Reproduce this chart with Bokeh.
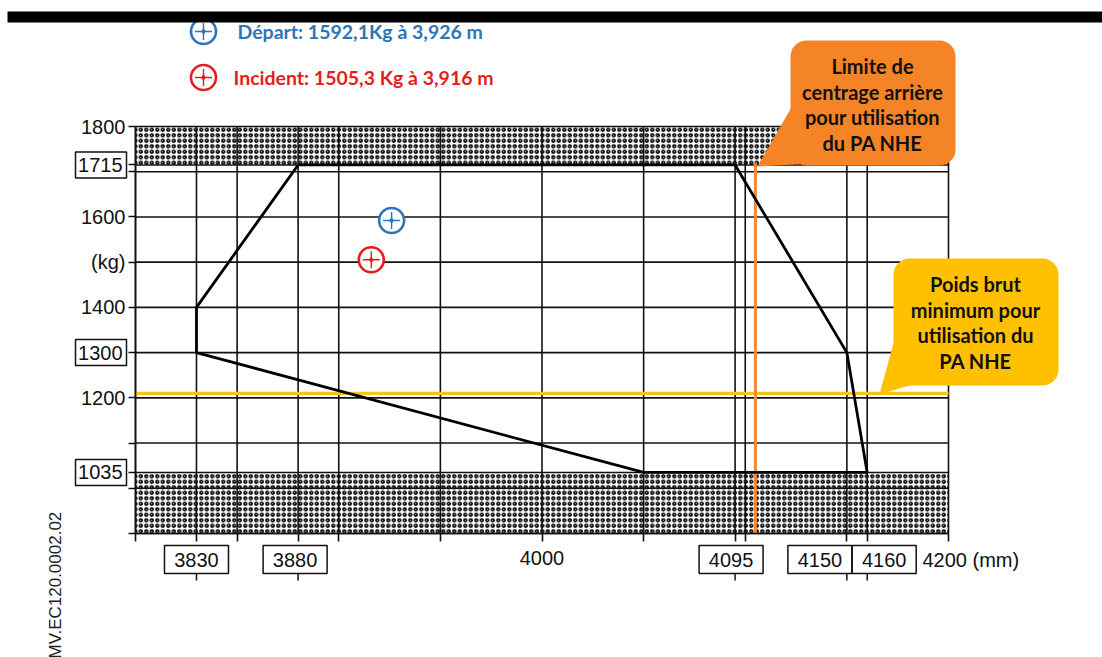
import math
from bokeh.plotting import figure
from bokeh.models import Range1d, FixedTicker, Label, BoxAnnotation, PolyAnnotation, LinearAxis
from bokeh.embed import file_html
from bokeh.resources import INLINE

# ---------------- data ----------------
x_lines = [3800, 3830, 3850, 3880, 3900, 3950, 4000, 4050, 4095, 4100, 4150, 4160, 4200]
y_lines = [900, 1000, 1035, 1100, 1200, 1300, 1400, 1500, 1600, 1700, 1715, 1800]
x_plain_labels = {4000: "4000"}
x_boxed_labels = [3830, 3880, 4095, 4150, 4160]
y_plain_labels = {1800: "1800", 1600: "1600", 1500: "(kg)", 1400: "1400", 1200: "1200"}
y_boxed_labels = [1715, 1300, 1035]
envelope_x = [3880, 4095, 4150, 4160, 4050, 3830, 3830, 3880]
envelope_y = [1715, 1715, 1300, 1035, 1035, 1300, 1400, 1715]
band_bottom = [1715, 900]
band_top = [1800, 1035]
aft_limit_x = 4105
min_weight_y = 1210
pt_x = [3926, 3916]
pt_y = [1592.1, 1505.3]
pt_text = ["Départ: 1592,1Kg à 3,926 m", "Incident: 1505,3 Kg à 3,916 m"]
pt_color = ["#2E75B6", "#E41E20"]

# ---------------- layout ----------------
W, H = 1102, 657
X0, X1, Y0, Y1 = 3800, 4200, 900, 1800
GL, GT = 135, 126          # pixel position of (X0, Y1)
GW, GH = 813, 407          # pixel size of the grid
PXX = GW / (X1 - X0)
PXY = GH / (Y1 - Y0)


def dx(px):
    return X0 + (px - GL) / PXX


def dy(py):
    return Y1 - (py - GT) / PXY


p = figure(width=W, height=H, x_range=Range1d(dx(0), dx(W)), y_range=Range1d(dy(H), dy(0)),
           output_backend="svg", toolbar_location=None,
           x_axis_location=None, y_axis_location=None,
           min_border_left=0, min_border_bottom=0, min_border_top=0, min_border_right=0)
p.outline_line_color = None
p.grid.visible = False
p.background_fill_color = "white"
p.border_fill_color = "white"

AX_FONT = "Liberation Sans"
AX_SIZE = "20px"
INK = "#111111"
xa = LinearAxis(fixed_location=Y0, ticker=FixedTicker(ticks=x_lines), bounds=(X0, X1),
                major_label_overrides={t: x_plain_labels.get(t, "") for t in x_lines})
ya = LinearAxis(fixed_location=X0, ticker=FixedTicker(ticks=y_lines), bounds=(Y0, Y1),
                major_label_overrides={t: y_plain_labels.get(t, "") for t in y_lines})
for ax, tout, stand in ((xa, 8, 9), (ya, 7, 3)):
    ax.axis_line_width = 1.6
    ax.axis_line_color = INK
    ax.major_tick_line_width = 1.6
    ax.major_tick_line_color = INK
    ax.major_tick_out = tout
    ax.major_tick_in = 0
    ax.minor_tick_line_color = None
    ax.major_label_text_font = AX_FONT
    ax.major_label_text_font_size = AX_SIZE
    ax.major_label_text_color = INK
    ax.major_label_standoff = stand
p.add_layout(xa, "below")
p.add_layout(ya, "left")

# forbidden (hatched) bands
p.quad(left=X0, right=X1, bottom=band_bottom, top=band_top,
       fill_color="white", line_color=None, hatch_color="black",
       hatch_pattern="o", hatch_scale=5.5, hatch_weight=1.6)

# grid
p.segment(x0=x_lines, y0=[min(y_lines)] * len(x_lines), x1=x_lines, y1=[max(y_lines)] * len(x_lines),
          line_color=INK, line_width=1.6)
p.segment(x0=[min(x_lines)] * len(y_lines), y0=y_lines, x1=[max(x_lines)] * len(y_lines), y1=y_lines,
          line_color=INK, line_width=1.6)
# small ticks under the boxed x labels
p.segment(x0=x_boxed_labels, y0=[dy(573)] * len(x_boxed_labels),
          x1=x_boxed_labels, y1=[dy(580)] * len(x_boxed_labels), line_color=INK, line_width=1.5)

# limits
p.segment(x0=[X0], y0=[min_weight_y], x1=[X1], y1=[min_weight_y], line_color="#F5C518", line_width=3.2)
p.segment(x0=[aft_limit_x], y0=[Y0], x1=[aft_limit_x], y1=[Y1 - 80], line_color="#F0883A", line_width=3)

# envelope
p.line(envelope_x, envelope_y, line_color="black", line_width=2.8)


def marker(xs, ys, colors):
    p.scatter(xs, ys, marker="circle", size=25, fill_color="white", line_color=colors, line_width=2.6)
    p.scatter(xs, ys, marker="cross", size=17, line_color=colors, line_width=1.4)
    p.scatter(xs, ys, marker="diamond", size=7, fill_color=colors, line_color=None)


marker(pt_x, pt_y, pt_color)

# legend (top)
leg_py = [31, 77]
leg_tx = [237, 233]
marker([dx(203)] * 2, [dy(v) for v in leg_py], pt_color)
for t, c, ty, tx in zip(pt_text, pt_color, leg_py, leg_tx):
    p.add_layout(Label(x=dx(tx), y=dy(ty), text=t, text_color=c, text_font="Lato",
                       text_font_style="bold", text_font_size="19.5px",
                       text_align="left", text_baseline="middle"))

# black band at top
p.add_layout(BoxAnnotation(left=dx(7), right=dx(W), top=dy(11), bottom=dy(22),
                           fill_color="black", fill_alpha=1, line_color=None))

# boxed tick labels
for v in y_boxed_labels:
    p.add_layout(BoxAnnotation(left=dx(75), right=dx(126), top=v + 13 / PXY, bottom=v - 13 / PXY,
                               fill_color="white", fill_alpha=1, line_color=INK, line_alpha=1,
                               line_width=1.5))
    p.add_layout(Label(x=X0, y=v, x_offset=-13, text=str(v), text_align="right", text_baseline="middle",
                       text_font=AX_FONT, text_font_size=AX_SIZE, text_color=INK))
x_box_shift = {3830: 0, 3880: -3, 4095: -4, 4150: -27, 4160: 17}
for v in x_boxed_labels:
    s = x_box_shift[v]
    p.add_layout(BoxAnnotation(left=v + (s - 32) / PXX, right=v + (s + 32) / PXX, top=dy(545), bottom=dy(573),
                               fill_color="white", fill_alpha=1, line_color=INK, line_alpha=1,
                               line_width=1.5))
    p.add_layout(Label(x=v, y=dy(559), x_offset=s, text=str(v), text_align="center",
                       text_baseline="middle",
                       text_font=AX_FONT, text_font_size=AX_SIZE, text_color=INK))
p.add_layout(Label(x=X1, y=dy(559), x_offset=-26, text="4200 (mm)", text_align="left", text_baseline="middle",
                   text_font=AX_FONT, text_font_size=AX_SIZE, text_color=INK))

# document code
p.add_layout(Label(x=dx(55), y=dy(658), angle=math.pi / 2, text="MV.EC120.0002.02", text_align="left",
                   text_baseline="middle", text_font=AX_FONT, text_font_size="17px", text_color="#222222"))

# callouts
CO_FONT = "Lato"


def callout(box, tail, text, color, center):
    l, t, r, b = box
    p.add_layout(PolyAnnotation(xs=[dx(q[0]) for q in tail], ys=[dy(q[1]) for q in tail],
                                fill_color=color, fill_alpha=1, line_color=None))
    p.add_layout(BoxAnnotation(left=dx(l), right=dx(r), top=dy(t), bottom=dy(b),
                               fill_color=color, fill_alpha=1, line_color=None, border_radius=16))
    p.add_layout(Label(x=dx(center[0]), y=dy(center[1]), text=text, text_align="center", text_baseline="middle",
                       text_font=CO_FONT, text_font_style="bold", text_font_size="20px",
                       text_color="#111111", text_line_height=1.07))


callout((790, 40, 955, 165), [(792, 105), (757, 166), (812, 163)],
        "Limite de\ncentrage arrière\npour utilisation\ndu PA NHE", "#F58426", (872, 104))
callout((893, 258, 1058, 385), [(895, 335), (879, 394), (912, 384)],
        "Poids brut\nminimum pour\nutilisation du\nPA NHE", "#FFC000", (975, 322))

open("out.html", "w").write(file_html(p, INLINE))
